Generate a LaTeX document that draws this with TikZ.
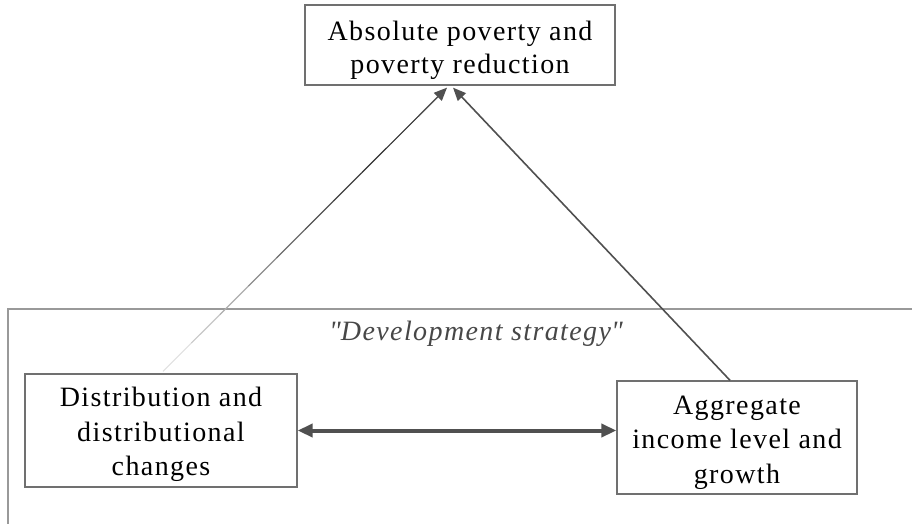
\documentclass[tikz,border=0pt]{standalone}
\usepackage{fontspec}
\setmainfont{Liberation Serif}[LetterSpace=5]
\usetikzlibrary{arrows.meta,calc}
\definecolor{boxline}{HTML}{707070}
\definecolor{frameline}{HTML}{999999}
\definecolor{arrowdark}{HTML}{505050}
\tikzset{
  box/.style={draw=boxline, line width=1.3pt, inner sep=0pt},
  boxtext/.style={align=center, inner sep=0pt, font=\fontsize{28}{34.5}\selectfont, text=black},
  tip/.style={-{Triangle[length=13pt,width=11pt]}, draw=arrowdark, fill=arrowdark, line width=1.4pt},
  both/.style={{Triangle[length=15pt,width=13pt]}-{Triangle[length=15pt,width=13pt]}, draw=arrowdark, line width=4pt},
}
\begin{document}
\begin{tikzpicture}[x=1pt,y=-1pt]
\useasboundingbox (0,0) rectangle (912,523);
% frame
\draw[frameline, line width=2.5pt] (915,309) -- (8,309) -- (8,530);
\node[font=\fontsize{28}{30}\selectfont\itshape, text=black!72] (strat) at (476,334) {\textquotedbl Development strategy\textquotedbl};
% boxes
\node[box, minimum width=310pt, minimum height=80pt] (top) at (460,45) {};
\node[boxtext, font=\fontsize{28}{33}\selectfont] (topt) at ($(top.center)+(0,5)$) {Absolute poverty and\\poverty reduction};
\node[box, minimum width=272pt, minimum height=113pt] (left) at (161,430.5) {};
\node[boxtext] (leftt) at ($(left.center)+(0,4)$) {Distribution and\\distributional\\changes};
\node[box, minimum width=240pt, minimum height=113pt] (right) at (737,437.5) {};
\node[boxtext] (rightt) at ($(right.center)+(0,5)$) {Aggregate\\income level and\\growth};
\coordinate (ls) at ($(left.north)+(2,-2)$);
\coordinate (lt) at ($(top.south)+(-13,2)$);
\coordinate (rs) at ($(right.north)+(-7,0)$);
\coordinate (rt) at ($(top.south)+(-7,2)$);
% left connector with fading
\foreach \a/\b/\c in {0/0.1/12,0.1/0.2/22,0.2/0.3/32,0.3/0.4/45,0.4/0.5/58,0.5/0.6/68,0.6/0.7/75,0.7/0.8/80,0.8/0.9/82}{
  \draw[black!\c, line width=1.2pt] ($(ls)!\a!(lt)$) -- ($(ls)!\b!(lt)$);
}
\draw[tip] ($(ls)!0.9!(lt)$) -- (lt);
\draw[tip, line width=1.6pt] (rs) -- (rt);
\draw[both] (left.east) -- (right.west |- left.east);
\end{tikzpicture}
\end{document}
